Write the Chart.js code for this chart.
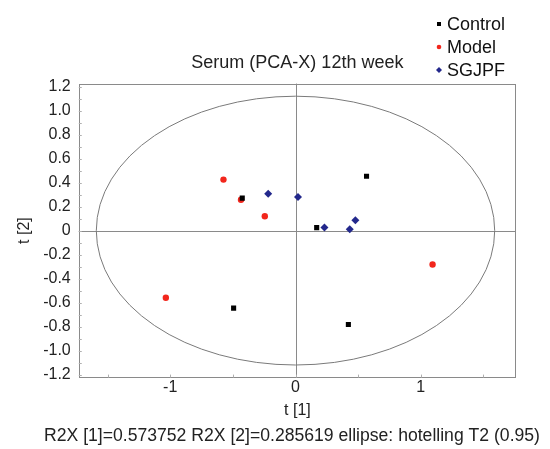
<!DOCTYPE html>
<html>
<head>
<meta charset="utf-8">
<script src="https://cdn.jsdelivr.net/npm/chart.js@4.4.1/dist/chart.umd.min.js"></script>
<style>
  html, body { margin: 0; padding: 0; background: #fff; }
  #wrap { width: 550px; height: 449px; }
</style>
</head>
<body>
<div id="wrap"><canvas id="myChart" width="550" height="449"></canvas></div>
<script>
// scores t[1], t[2] per group
const controlX = [-0.425, 0.567, 0.169, 0.422, -0.494]
const controlY = [0.271, 0.453, 0.025, -0.783, -0.646]
const modelX = [-0.575, -0.435, -0.245, 1.094, -1.035]
const modelY = [0.425, 0.257, 0.120, -0.283, -0.559]
const sgjpfX = [-0.218, 0.020, 0.231, 0.478, 0.433]
const sgjpfY = [0.308, 0.280, 0.025, 0.087, 0.011]

const xTicks = [-1, 0, 1]
const yTicks = [-1.2, -1.0, -0.8, -0.6, -0.4, -0.2, 0, 0.2, 0.4, 0.6, 0.8, 1.0, 1.2]
const xMinorTicks = [-1.5, -1, -0.5, 0, 0.5, 1, 1.5]
const yMinorTicks = [-1.2, -1.1, -1.0, -0.9, -0.8, -0.7, -0.6, -0.5, -0.4, -0.3, -0.2, -0.1, 0,
  0.1, 0.2, 0.3, 0.4, 0.5, 0.6, 0.7, 0.8, 0.9, 1.0, 1.1, 1.2]

// hotelling T2 (0.95) semi axes
const ellipseA = 1.59
const ellipseB = 1.12

const footerText = 'R2X [1]=0.573752 R2X [2]=0.285619 ellipse: hotelling T2 (0.95)'

const FONT = "'Liberation Sans', Arial, sans-serif"
const GREY = '#8a8a8a'

function toPoints(xs, ys) {
  return xs.map((x, i) => ({ x: x, y: ys[i] }))
}

const plotDecor = {
  id: 'plotDecor',
  beforeDatasetsDraw(chart) {
    const ctx = chart.ctx
    const area = chart.chartArea
    const xs = chart.scales.x
    const ys = chart.scales.y
    ctx.save()
    ctx.strokeStyle = GREY
    ctx.lineWidth = 1

    // box
    ctx.strokeRect(Math.round(area.left) + 0.5, Math.round(area.top) + 0.5,
      Math.round(area.width) - 1, Math.round(area.height) - 1)

    // zero lines
    const x0 = Math.round(xs.getPixelForValue(0)) + 0.5
    const y0 = Math.round(ys.getPixelForValue(0)) + 0.5
    ctx.beginPath()
    ctx.moveTo(x0, area.top)
    ctx.lineTo(x0, area.bottom)
    ctx.moveTo(area.left, y0)
    ctx.lineTo(area.right, y0)
    ctx.stroke()

    // small inner ticks
    ctx.strokeStyle = '#b0b0b0'
    ctx.beginPath()
    for (let v of xMinorTicks) {
      const px = Math.round(xs.getPixelForValue(v)) + 0.5
      ctx.moveTo(px, area.bottom)
      ctx.lineTo(px, area.bottom - 3)
    }
    for (let v of yMinorTicks) {
      const py = Math.round(ys.getPixelForValue(v)) + 0.5
      ctx.moveTo(area.left, py)
      ctx.lineTo(area.left + 3, py)
    }
    ctx.stroke()

    // ellipse
    const cx = xs.getPixelForValue(0)
    const cy = ys.getPixelForValue(0)
    const rx = xs.getPixelForValue(ellipseA) - cx
    const ry = cy - ys.getPixelForValue(ellipseB)
    ctx.strokeStyle = '#7a7a7a'
    ctx.beginPath()
    ctx.ellipse(cx, cy, rx, ry, 0, 0, Math.PI * 2)
    ctx.stroke()
    ctx.restore()
  },
  afterDraw(chart) {
    const ctx = chart.ctx
    ctx.save()
    // legend, top right
    ctx.font = '18px ' + FONT
    ctx.textBaseline = 'middle'
    chart.data.datasets.forEach((ds, i) => {
      const y = 24 + i * 23
      ctx.fillStyle = ds.backgroundColor
      ctx.beginPath()
      if (ds.pointStyle === 'rect') ctx.rect(437, y - 2, 4, 4)
      else if (ds.pointStyle === 'circle') ctx.arc(439, y, 2.3, 0, Math.PI * 2)
      else { ctx.moveTo(436, y); ctx.lineTo(439, y - 3); ctx.lineTo(442, y); ctx.lineTo(439, y + 3); ctx.closePath() }
      ctx.fill()
      ctx.fillStyle = '#111'
      ctx.fillText(ds.label, 447, y + 1)
    })
    // footer line under the plot
    ctx.font = '17.6px ' + FONT
    ctx.textAlign = 'center'
    ctx.fillStyle = '#222'
    ctx.fillText(footerText, 292, 436)
    ctx.restore()
  }
}

const data = {
  datasets: [
    {
      label: 'Control',
      data: toPoints(controlX, controlY),
      pointStyle: 'rect',
      pointRadius: 3.6,
      backgroundColor: '#000000',
      borderColor: '#000000',
      borderWidth: 0
    },
    {
      label: 'Model',
      data: toPoints(modelX, modelY),
      pointStyle: 'circle',
      pointRadius: 3.2,
      backgroundColor: '#f2261c',
      borderColor: '#f2261c',
      borderWidth: 0
    },
    {
      label: 'SGJPF',
      data: toPoints(sgjpfX, sgjpfY),
      pointStyle: 'rectRot',
      pointRadius: 4,
      backgroundColor: '#23288c',
      borderColor: '#23288c',
      borderWidth: 0
    }
  ]
}

const config = {
  type: 'scatter',
  data: data,
  options: {
    responsive: false,
    animation: false,
    layout: { padding: { left: 15, right: 34, top: 0, bottom: 26 } },
    plugins: {
      legend: { display: false },
      tooltip: { enabled: false },
      title: {
        display: true,
        fullSize: false,
        text: 'Serum (PCA-X) 12th week',
        color: '#222',
        font: { family: FONT, size: 18, weight: 'normal' },
        padding: { top: 52, bottom: 10 }
      }
    },
    scales: {
      x: {
        type: 'linear',
        min: -1.73,
        max: 1.76,
        afterBuildTicks: (axis) => { axis.ticks = xTicks.map(v => ({ value: v })) },
        grid: { display: false, drawTicks: false },
        border: { display: false },
        ticks: {
          color: '#222',
          padding: 0,
          font: { family: FONT, size: 16 },
          callback: (v) => String(v)
        },
        title: {
          display: true,
          text: 't [1]',
          color: '#222',
          font: { family: FONT, size: 16 },
          padding: { top: 4, bottom: 3 }
        }
      },
      y: {
        type: 'linear',
        min: -1.225,
        max: 1.225,
        afterBuildTicks: (axis) => { axis.ticks = yTicks.map(v => ({ value: v })) },
        grid: { display: false, drawTicks: false },
        border: { display: false },
        ticks: {
          color: '#222',
          padding: 8,
          font: { family: FONT, size: 16 },
          callback: (v) => (v === 0 ? '0' : Number(v).toFixed(1))
        },
        title: {
          display: true,
          text: 't [2]',
          color: '#222',
          font: { family: FONT, size: 16 },
          padding: { top: 0, bottom: 1 }
        }
      }
    }
  },
  plugins: [plotDecor]
}

const myChart = new Chart(document.getElementById('myChart'), config)
</script>
</body>
</html>
